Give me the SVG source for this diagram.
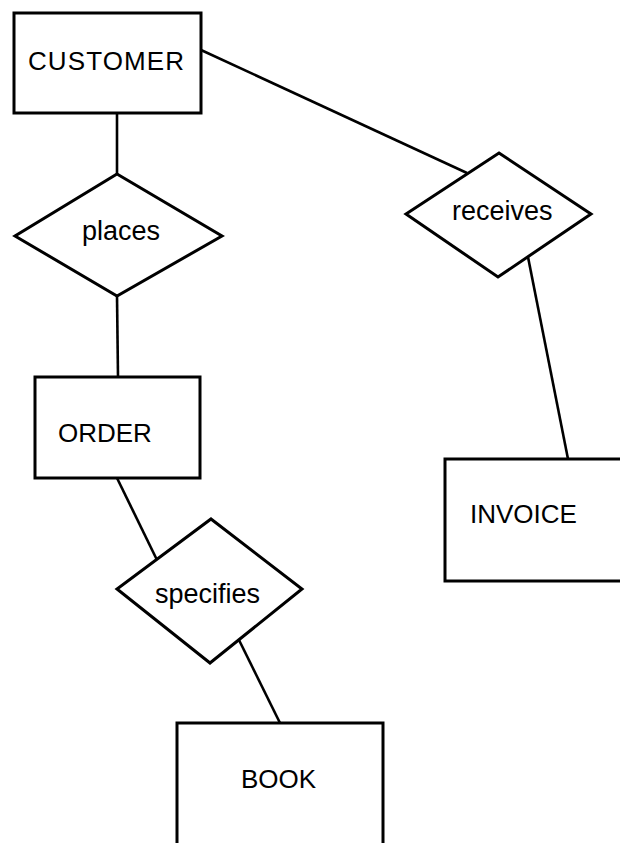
<svg xmlns="http://www.w3.org/2000/svg" width="620" height="843" viewBox="0 0 620 843">
<style>
.shape{fill:#fff;stroke:#000;stroke-width:3;stroke-linejoin:miter}
.conn{stroke:#000;stroke-width:2.6;fill:none}
.cap{font-family:"Liberation Sans",Arial,sans-serif;font-size:26px;fill:#000}
.low{font-family:"Liberation Sans",Arial,sans-serif;font-size:27px;fill:#000}
</style>
<rect width="620" height="843" fill="#fff"/>
<g id="connectors">
<line class="conn" x1="117" y1="113" x2="117" y2="174"/>
<line class="conn" x1="201" y1="50" x2="467" y2="173"/>
<line class="conn" x1="117" y1="296" x2="118" y2="377"/>
<line class="conn" x1="528" y1="257" x2="568" y2="459"/>
<line class="conn" x1="117" y1="478" x2="157" y2="560"/>
<line class="conn" x1="239" y1="640" x2="280" y2="723"/>
</g>
<g id="customer">
<rect class="shape" x="14" y="13" width="187" height="100"/>
<text class="cap" x="28" y="70" textLength="156">CUSTOMER</text>
</g>
<g id="places">
<polygon class="shape" points="117,174 222,236 117,296 15,236"/>
<text class="low" x="82" y="240">places</text>
</g>
<g id="receives">
<polygon class="shape" points="499,153 591,214 498,277 406,214"/>
<text class="low" x="452" y="220">receives</text>
</g>
<g id="order">
<rect class="shape" x="35" y="377" width="165" height="101"/>
<text class="cap" x="58" y="442">ORDER</text>
</g>
<g id="invoice">
<rect class="shape" x="445" y="459" width="185" height="122"/>
<text class="cap" x="470" y="523">INVOICE</text>
</g>
<g id="specifies">
<polygon class="shape" points="211,519 302,589 210,663 117,589"/>
<text class="low" x="155" y="603">specifies</text>
</g>
<g id="book">
<rect class="shape" x="177" y="723" width="206" height="140"/>
<text class="cap" x="241" y="788">BOOK</text>
</g>
</svg>
